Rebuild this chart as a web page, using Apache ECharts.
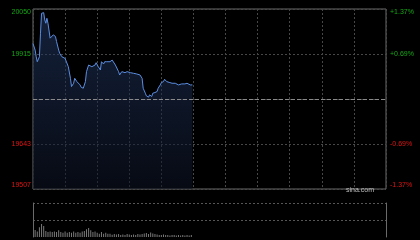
<!DOCTYPE html>
<html>
<head>
<meta charset="utf-8">
<script src="https://cdn.jsdelivr.net/npm/echarts@6/dist/echarts.min.js"></script>
<style>
html,body{margin:0;padding:0;background:#000;}
#chart{width:420px;height:240px;}
</style>
</head>
<body>
<div id="chart"></div>
<script>
// ---- data ----
var prevClose = 19778.5;
var priceMinutes = [0,1,2,3,4,6,7,8,10,11,12,13,14,16,17,19,21,22,24,25,27,28,30,31,33,35,36,38,39,41,42,44,45,47,49,50,52,53,55,56,58,59,61,63,64,66,67,69,70,72,74,75,77,78,80,81,83,84,86,88,89,91,92,94,95,97,98,100,102,103,105,106,108,109,111,112,114,116,117,119,120,122,123,125,126,128,130,131,133,134,136,137,139,140,142,144,145,147,149];
var prices = [19946,19948,19926,19906,19891,19906,19977,20037,20039,20017,20007,20022,20007,19962,19967,19972,19967,19952,19926,19916,19906,19911,19901,19906,19876,19841,19816,19826,19841,19831,19836,19821,19814,19811,19831,19861,19881,19876,19876,19871,19881,19888,19876,19866,19891,19884,19891,19891,19896,19891,19896,19901,19881,19876,19861,19851,19861,19866,19858,19861,19856,19858,19854,19856,19851,19854,19848,19851,19841,19811,19796,19788,19784,19791,19786,19796,19798,19801,19811,19821,19828,19831,19838,19831,19826,19828,19826,19830,19826,19824,19821,19821,19824,19821,19824,19826,19823,19821,19821];
var volMinutes = [2,4,6,8,10,12,14,16,18,20,22,24,26,28,30,32,34,36,38,40,42,44,46,48,50,52,54,56,58,60,62,64,66,68,70,72,74,76,78,80,82,84,86,88,90,92,94,96,98,100,102,104,106,108,110,112,114,116,118,120,122,124,126,128,130,132,134,136,138,140,142,144,146,148];
var volumes = [7,5.6,9.7,13,11,6,5,5.6,5,5.6,5,6.7,5,4.3,5.6,4.3,5,4.3,5.6,4.3,5,4.3,5.6,6,7.7,9,6.7,5,5.6,4.3,3.3,5,3.3,4.3,3.3,3.3,2.3,3,2.5,3,2,2.5,2,3,2.5,2,2.5,2,3,2.5,3,3.5,4,3,4.5,3.5,3,2.5,2,2,2.5,2,2,1.5,2,2,1.5,2,1.5,2,1.5,2,1.5,2];
var priceTickLabels = ['19507','19643','','19915','20050'];
var pctTickLabels = ['-1.37%','-0.69%','','+0.69%','+1.37%'];
var halfRange = 271.5;

var chart = echarts.init(document.getElementById('chart'), null, {renderer:'canvas'});
var fontFam = 'Liberation Sans, Arial, sans-serif';
var step = halfRange / 2;
function tickIndex(v){ return Math.round((Number(v) + halfRange) / step); }
function labelColor(v){ var i = tickIndex(v); return i > 2 ? '#14a814' : '#e01515'; }

var lineData = priceMinutes.map(function(m,i){ return [m, prices[i] - prevClose]; });
var volData = volMinutes.map(function(m,i){ return [m, volumes[i]]; });

var gridDash = {color:'#474747', type:[2,2], width:1};

chart.setOption({
  backgroundColor:'#000',
  animation:false,
  textStyle:{fontFamily:fontFam},
  title:{
    text:'sina.com', right:41, top:182,
    textStyle:{color:'#bdbdbd', fontSize:7, fontWeight:'normal', fontFamily:fontFam}
  },
  grid:[
    {left:33, right:34, top:9, height:180, show:true, borderColor:'#6a6a6a', borderWidth:1, backgroundColor:'transparent'},
    {left:33, right:34, top:203, height:34, show:false}
  ],
  xAxis:[
    {type:'value', gridIndex:0, min:0, max:330, interval:30,
     axisLine:{show:false}, axisTick:{show:false}, axisLabel:{show:false},
     splitLine:{show:true, lineStyle:gridDash}},
    {type:'value', gridIndex:1, min:0, max:330, interval:30,
     axisLine:{show:false}, axisTick:{show:false}, axisLabel:{show:false},
     splitLine:{show:false}}
  ],
  yAxis:[
    {type:'value', gridIndex:0, min:-halfRange, max:halfRange, interval:step, position:'left',
     axisLine:{show:false}, axisTick:{show:false},
     splitLine:{show:true, lineStyle:gridDash},
     axisLabel:{show:true, margin:2, fontSize:7, fontFamily:fontFam,
       color:function(v){ return labelColor(v); },
       verticalAlignMaxLabel:'top', verticalAlignMinLabel:'bottom',
       formatter:function(v){ return priceTickLabels[tickIndex(v)]; }}},
    {type:'value', gridIndex:0, min:-halfRange, max:halfRange, interval:step, position:'right',
     axisLine:{show:false}, axisTick:{show:false}, splitLine:{show:false},
     axisLabel:{show:true, margin:4, fontSize:7, fontFamily:fontFam,
       color:function(v){ return labelColor(v); },
       verticalAlignMaxLabel:'top', verticalAlignMinLabel:'bottom',
       formatter:function(v){ return pctTickLabels[tickIndex(v)]; }}},
    {type:'value', gridIndex:1, min:0, max:34, interval:17, position:'left',
     axisLine:{show:true, lineStyle:{color:'#6a6a6a', width:1}}, axisTick:{show:false}, axisLabel:{show:false},
     splitLine:{show:true, showMinLine:false, lineStyle:{color:'#555', type:[2,2], width:1}}},
    {type:'value', gridIndex:1, min:0, max:34, interval:17, position:'right',
     axisLine:{show:true, lineStyle:{color:'#6a6a6a', width:1}}, axisTick:{show:false}, axisLabel:{show:false},
     splitLine:{show:false}}
  ],
  series:[
    {type:'line', xAxisIndex:0, yAxisIndex:0, data:lineData, symbol:'none', silent:true,
     lineStyle:{color:'#5b8de0', width:1},
     areaStyle:{origin:'start', color:new echarts.graphic.LinearGradient(0,0,0,1,[
       {offset:0, color:'rgba(38,62,110,0.75)'},
       {offset:1, color:'rgba(12,18,34,0.8)'}
     ])},
     markLine:{silent:true, symbol:'none', label:{show:false},
       lineStyle:{color:'#8a8a8a', type:[4,2], width:1},
       data:[{yAxis:0}]}
    },
    {type:'bar', xAxisIndex:1, yAxisIndex:2, data:volData, barWidth:1, silent:true,
     itemStyle:{color:'#7a7a7a'}}
  ]
});
</script>
</body>
</html>
